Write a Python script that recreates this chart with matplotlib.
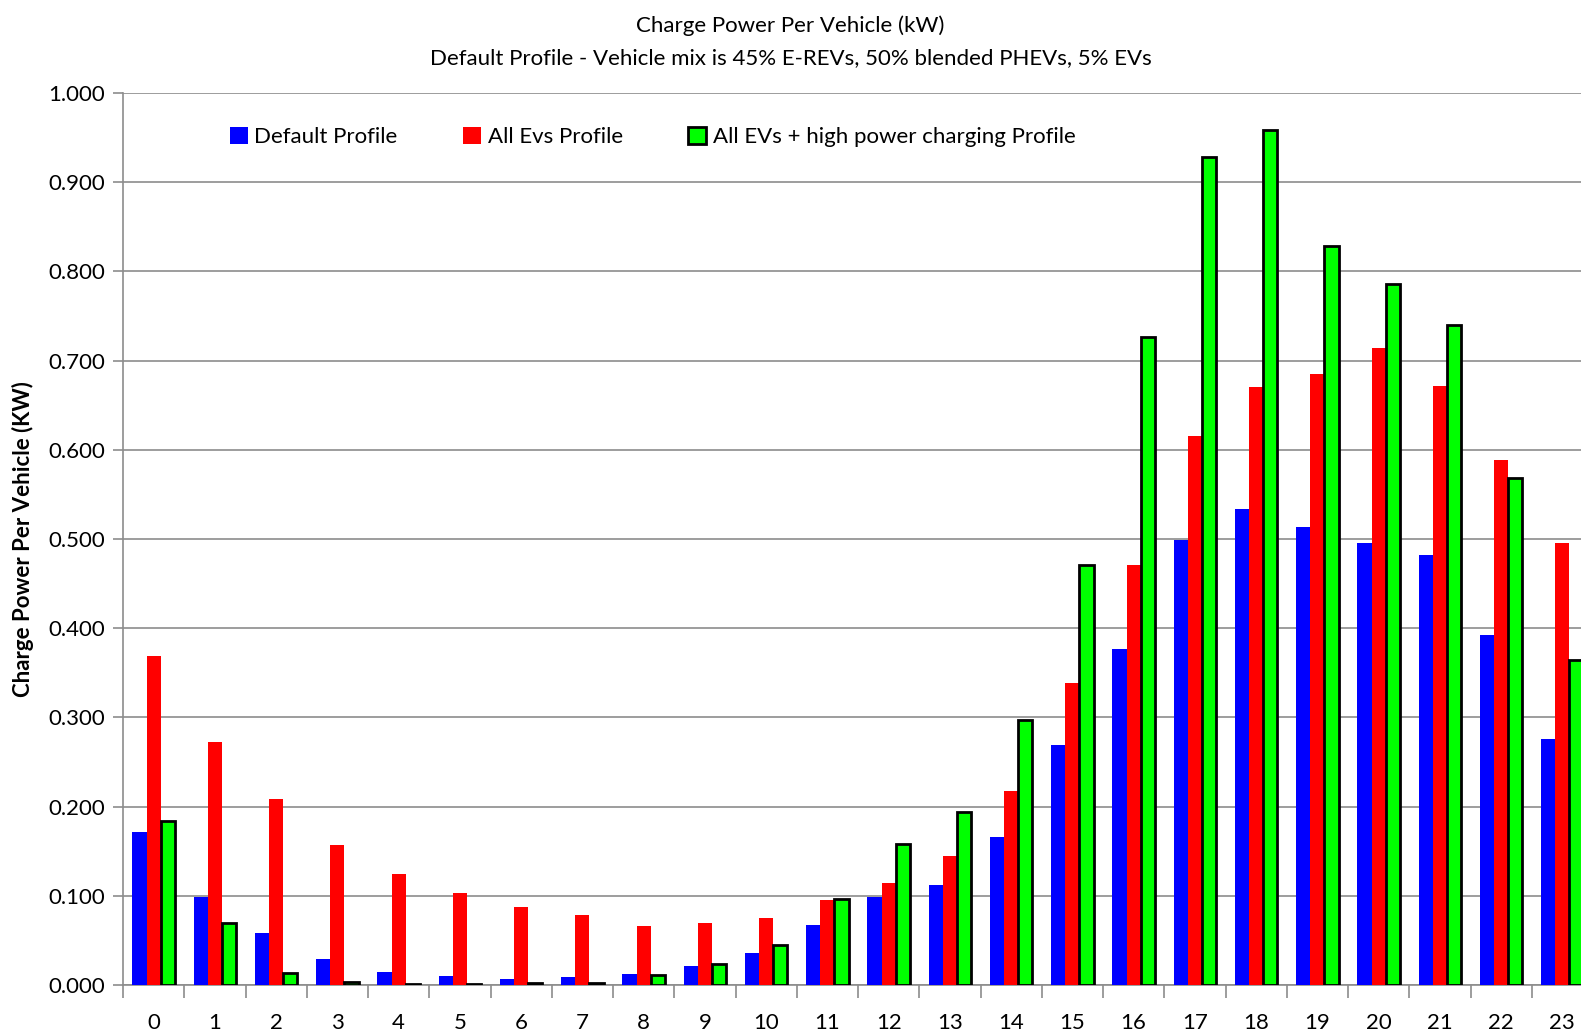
import numpy as np
import matplotlib
matplotlib.use("Agg")
import matplotlib.pyplot as plt

plt.rcParams['font.family'] = ['Lato', 'DejaVu Sans']

hours = list(range(24))
default_profile = [0.171, 0.099, 0.058, 0.029, 0.015, 0.010, 0.007, 0.009, 0.012, 0.021,
                   0.036, 0.067, 0.099, 0.112, 0.166, 0.269, 0.377, 0.499, 0.534, 0.514,
                   0.496, 0.482, 0.392, 0.276]
all_evs = [0.369, 0.272, 0.208, 0.157, 0.124, 0.103, 0.087, 0.078, 0.066, 0.070,
           0.075, 0.095, 0.114, 0.145, 0.217, 0.339, 0.471, 0.616, 0.670, 0.685,
           0.714, 0.672, 0.589, 0.496]
all_evs_high = [0.184, 0.069, 0.014, 0.003, 0.001, 0.001, 0.002, 0.002, 0.011, 0.024,
                0.045, 0.096, 0.158, 0.194, 0.297, 0.471, 0.727, 0.928, 0.959, 0.828,
                0.786, 0.740, 0.568, 0.364]

W, H = 1581, 1034
fig = plt.figure(figsize=(W / 100, H / 100), dpi=100)
ax = fig.add_axes([123 / W, 1 - 985 / H, (1593 - 123) / W, (985 - 93) / H])

x = np.array(hours)
bw = 0.23
ax.bar(x - bw, default_profile, bw, color='#0000ff', label='Default Profile', zorder=3)
ax.bar(x, all_evs, bw, color='#ff0000', label='All Evs Profile', zorder=3)
ax.bar(x + bw, all_evs_high, bw, color='#00ff00', edgecolor='black', linewidth=2,
       label='All EVs + high power charging Profile', zorder=3)

ax.set_xlim(-0.5, 23.5)
ax.set_ylim(0, 1.0)
ax.set_yticks(np.arange(0, 1.01, 0.1))
ax.set_yticklabels([f"{v:.3f}" for v in np.arange(0, 1.01, 0.1)])
ax.yaxis.grid(True, color='#8c8c8c', linewidth=1.2, zorder=0)

ax.set_xticks(np.arange(-0.5, 24, 1))
ax.set_xticklabels([])
ax.set_xticks(x, minor=True)
ax.set_xticklabels([str(h) for h in hours], minor=True)
ax.tick_params(axis='x', which='minor', length=0, pad=20, labelsize=16)
ax.tick_params(axis='x', which='major', length=9, color='#8c8c8c', width=1.2)
ax.tick_params(axis='y', length=7, color='#8c8c8c', width=1.2, labelsize=16, pad=6)

for s in ['top', 'right']:
    ax.spines[s].set_visible(False)
for s in ['left', 'bottom']:
    ax.spines[s].set_color('#8c8c8c')
    ax.spines[s].set_linewidth(1.2)

ax.set_ylabel('Charge Power Per Vehicle (KW)', fontsize=16, fontweight='bold', labelpad=10)

fig.text(0.5, 1 - 26 / H, 'Charge Power Per Vehicle (kW)', ha='center', va='center', fontsize=16)
fig.text(0.5, 1 - 58 / H, 'Default Profile - Vehicle mix is 45% E-REVs, 50% blended PHEVs, 5% EVs',
         ha='center', va='center', fontsize=16)

ax.legend(loc='center left', bbox_to_anchor=(230 / W, 1 - 137 / H), bbox_transform=fig.transFigure,
          ncol=3, frameon=False, fontsize=16, handlelength=0.8, handleheight=0.8,
          handletextpad=0.3, columnspacing=2.95, borderaxespad=0, borderpad=0)

fig.savefig('out.png', dpi=100)
